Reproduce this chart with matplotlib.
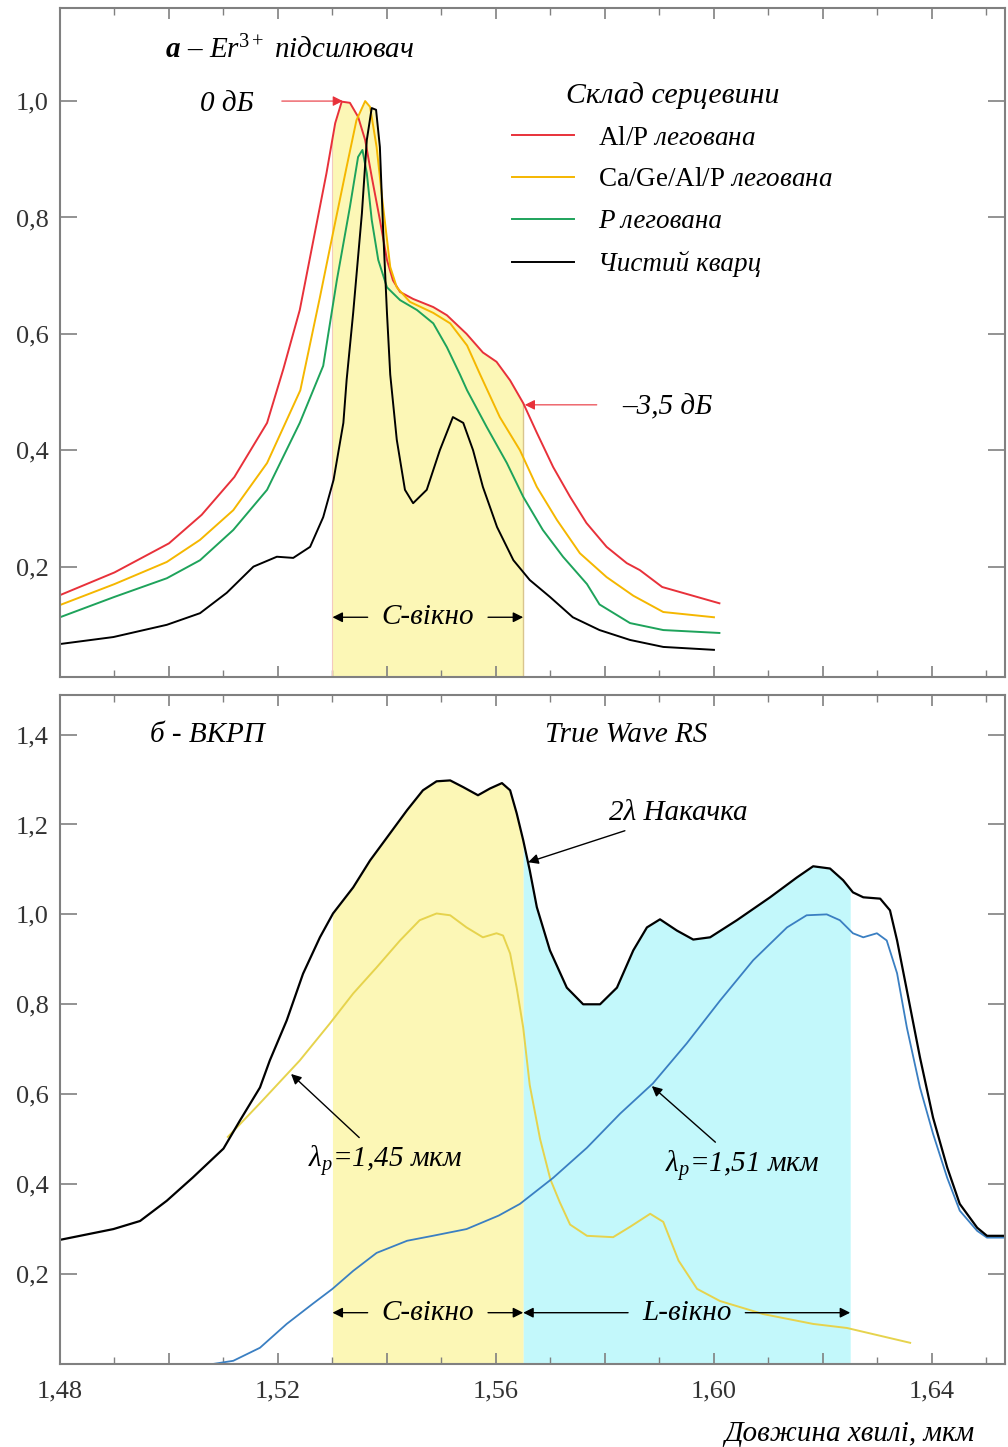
import numpy as np
import matplotlib
matplotlib.use("Agg")
import matplotlib.pyplot as plt
from matplotlib.ticker import MultipleLocator, FuncFormatter

plt.rcParams["font.family"] = ["Liberation Serif", "DejaVu Serif"]
plt.rcParams["mathtext.fontset"] = "custom"
plt.rcParams["mathtext.rm"] = "Liberation Serif"
plt.rcParams["mathtext.it"] = "Liberation Serif:italic"
plt.rcParams["mathtext.bf"] = "Liberation Serif:bold"
plt.rcParams["lines.solid_joinstyle"] = "round"

# ---- panel a: Er3+ amplifier gain spectra (normalised) ----
red_x = [1.480, 1.490, 1.500, 1.506, 1.512, 1.518, 1.521, 1.524, 1.5265, 1.5289,
         1.5305, 1.5317, 1.5332, 1.5347, 1.536, 1.5372, 1.5387, 1.540, 1.5411, 1.5424,
         1.5448, 1.5485, 1.551, 1.5546, 1.5576, 1.5601, 1.5626, 1.565, 1.5675, 1.5705,
         1.5736, 1.5766, 1.5803, 1.584, 1.5864, 1.5905, 1.601]
red_y = [0.151, 0.190, 0.240, 0.289, 0.354, 0.447, 0.540, 0.641, 0.761, 0.876,
         0.962, 0.999, 0.997, 0.973, 0.933, 0.870, 0.796, 0.727, 0.692, 0.672,
         0.660, 0.646, 0.632, 0.600, 0.568, 0.552, 0.520, 0.481, 0.430, 0.371,
         0.320, 0.275, 0.234, 0.206, 0.194, 0.165, 0.137]

yel_x = [1.480, 1.490, 1.4996, 1.5057, 1.5118, 1.518, 1.5241, 1.5277, 1.5302, 1.5326,
         1.5344, 1.536, 1.5369, 1.5381, 1.5393, 1.5406, 1.5418, 1.5442, 1.5485, 1.5516,
         1.5547, 1.5571, 1.5607, 1.5644, 1.5675, 1.5712, 1.5754, 1.5803, 1.5852, 1.5907,
         1.600]
yel_y = [0.134, 0.170, 0.208, 0.246, 0.297, 0.378, 0.503, 0.663, 0.778, 0.887,
         0.967, 1.000, 0.990, 0.921, 0.818, 0.715, 0.680, 0.655, 0.636, 0.618,
         0.580, 0.530, 0.457, 0.400, 0.337, 0.280, 0.223, 0.182, 0.150, 0.122,
         0.113]

grn_x = [1.480, 1.490, 1.4996, 1.5057, 1.5118, 1.518, 1.524, 1.5283, 1.5308, 1.5332,
         1.5347, 1.5355, 1.5363, 1.5372, 1.5384, 1.540, 1.5424, 1.5455, 1.5485, 1.551,
         1.5534, 1.5547, 1.5583, 1.562, 1.565, 1.5686, 1.5723, 1.5767, 1.579, 1.5846,
         1.5907, 1.601]
grn_y = [0.113, 0.148, 0.180, 0.211, 0.263, 0.332, 0.447, 0.545, 0.692, 0.818,
         0.904, 0.916, 0.876, 0.796, 0.727, 0.680, 0.658, 0.641, 0.618, 0.577,
         0.530, 0.503, 0.440, 0.378, 0.320, 0.263, 0.217, 0.170, 0.135, 0.103,
         0.091, 0.086]

blk_x = [1.480, 1.4898, 1.4996, 1.5057, 1.5106, 1.5155, 1.5198, 1.5228, 1.5259, 1.5283,
         1.5302, 1.532, 1.5326, 1.5338, 1.5354, 1.5363, 1.5372, 1.538, 1.5387, 1.5393,
         1.540, 1.5406, 1.5418, 1.5433, 1.5448, 1.5473, 1.5497, 1.5521, 1.554, 1.5558,
         1.5576, 1.5602, 1.5632, 1.5662, 1.5699, 1.5741, 1.579, 1.5846, 1.5907, 1.600]
blk_y = [0.067, 0.079, 0.100, 0.120, 0.155, 0.200, 0.217, 0.215, 0.234, 0.285,
         0.349, 0.447, 0.521, 0.636, 0.807, 0.933, 0.988, 0.985, 0.921, 0.778,
         0.636, 0.530, 0.418, 0.332, 0.309, 0.332, 0.400, 0.457, 0.447, 0.400,
         0.337, 0.268, 0.211, 0.177, 0.148, 0.113, 0.091, 0.074, 0.062, 0.057]

# ---- panel b: Raman amplifier gain ----
pump2_x = [1.480, 1.4898, 1.4947, 1.4996, 1.5044, 1.510, 1.513, 1.5167, 1.5185, 1.5216,
           1.5246, 1.5277, 1.5301, 1.5338, 1.5369, 1.540, 1.5437, 1.5466, 1.5491, 1.5516,
           1.554, 1.5567, 1.5589, 1.5611, 1.5626, 1.5638, 1.565, 1.5662, 1.5675, 1.5699,
           1.573, 1.576, 1.5791, 1.5822, 1.5852, 1.5877, 1.5901, 1.5932, 1.5962, 1.5993,
           1.6042, 1.6103, 1.6152, 1.6182, 1.6213, 1.6237, 1.6255, 1.6274, 1.6305, 1.6323,
           1.6336, 1.6354, 1.6378, 1.6402, 1.6428, 1.6451, 1.6483, 1.6501, 1.6534]
pump2_y = [0.276, 0.300, 0.318, 0.363, 0.415, 0.479, 0.541, 0.615, 0.675, 0.764,
           0.868, 0.949, 1.002, 1.060, 1.120, 1.171, 1.232, 1.276, 1.296, 1.298,
           1.283, 1.265, 1.280, 1.292, 1.276, 1.225, 1.165, 1.098, 1.016, 0.920,
           0.837, 0.800, 0.800, 0.837, 0.920, 0.971, 0.989, 0.964, 0.944, 0.949,
           0.987, 1.038, 1.082, 1.107, 1.102, 1.076, 1.049, 1.038, 1.035, 1.009,
           0.942, 0.831, 0.682, 0.548, 0.437, 0.356, 0.303, 0.285, 0.285]

p145_x = [1.5108, 1.5167, 1.524, 1.5295, 1.5338, 1.5381, 1.5424, 1.546, 1.5491, 1.5516,
          1.5546, 1.5576, 1.5601, 1.5613, 1.5626, 1.5638, 1.565, 1.5662, 1.5681, 1.570,
          1.5717, 1.5736, 1.5767, 1.5815, 1.5846, 1.5883, 1.5907, 1.5935, 1.5969, 1.6011,
          1.609, 1.6182, 1.6244, 1.636]
p145_y = [0.505, 0.580, 0.675, 0.757, 0.824, 0.882, 0.942, 0.987, 1.002, 0.998,
          0.971, 0.949, 0.958, 0.953, 0.913, 0.837, 0.748, 0.620, 0.500, 0.410,
          0.360, 0.310, 0.285, 0.282, 0.305, 0.334, 0.316, 0.230, 0.167, 0.140,
          0.111, 0.089, 0.080, 0.047]

p151_x = [1.5081, 1.5118, 1.5167, 1.5216, 1.5264, 1.530, 1.5338, 1.5381, 1.5437, 1.5484,
          1.5546, 1.5605, 1.5644, 1.5705, 1.5767, 1.5828, 1.5888, 1.595, 1.6011, 1.6072,
          1.6134, 1.617, 1.6207, 1.6231, 1.6255, 1.6274, 1.6299, 1.6317, 1.6336, 1.6354,
          1.6378, 1.6402, 1.6428, 1.6451, 1.6483, 1.6501, 1.6534]
p151_y = [0.000, 0.007, 0.036, 0.089, 0.134, 0.167, 0.207, 0.247, 0.274, 0.285,
          0.300, 0.330, 0.356, 0.414, 0.481, 0.557, 0.624, 0.713, 0.808, 0.898,
          0.971, 0.998, 1.000, 0.987, 0.958, 0.949, 0.958, 0.942, 0.869, 0.748,
          0.615, 0.512, 0.414, 0.341, 0.296, 0.281, 0.281]

c_band = (1.530, 1.565)
l_band = (1.565, 1.625)

col_red = "#e8313a"
col_yel = "#f5b700"
col_grn = "#1ea35b"
col_blu = "#3a7fc2"
col_yel2 = "#e6d34d"
fill_yel = "#fcf7b6"
fill_cyan = "#c3f8fb"
spine_col = "#808080"
FS = 21


def comma(v, pos):
    if abs(v) < 1e-9:
        return ""
    return f"{v:.1f}".replace(".", ",")


def comma2(v, pos):
    if abs(round(v / 0.04) * 0.04 - v) < 1e-6:
        return f"{v:.2f}".replace(".", ",")
    return ""


def style_axes(ax):
    for s in ax.spines.values():
        s.set_color(spine_col)
        s.set_linewidth(1.5)
    ax.xaxis.set_major_locator(MultipleLocator(0.02))
    ax.xaxis.set_minor_locator(MultipleLocator(0.01))
    ax.yaxis.set_major_locator(MultipleLocator(0.2))
    ax.yaxis.set_major_formatter(FuncFormatter(comma))
    ax.xaxis.set_major_formatter(FuncFormatter(comma2))
    ax.tick_params(which="both", direction="in", top=True, right=True,
                   color=spine_col, labelsize=19, labelcolor="#333333")
    ax.tick_params(which="major", length=8, width=1.2)
    ax.tick_params(which="minor", length=5, width=1.0)
    ax.tick_params(axis="y", which="major", length=12, pad=8)
    ax.tick_params(axis="x", which="major", pad=12)


def arrow(ax, xy, xytext, color="black", lw=1.0):
    ax.annotate("", xy=xy, xytext=xytext,
                arrowprops=dict(arrowstyle="-|>", color=color, lw=lw,
                                mutation_scale=15, shrinkA=0, shrinkB=0))


def band_label(ax, text, band, y):
    mid = (band[0] + band[1]) / 2
    kw = dict(xycoords="data", textcoords="data", ha="center", va="center",
              fontsize=FS, style="italic")
    ap = dict(arrowstyle="-|>", color="black", lw=1.0, mutation_scale=15,
              shrinkA=8, shrinkB=0)
    ax.annotate(text, xy=(band[0], y), xytext=(mid, y), arrowprops=ap, **kw)
    ax.annotate(text, xy=(band[1], y), xytext=(mid, y), arrowprops=ap,
                color="none", **kw)


fig = plt.figure(figsize=(10.08, 14.47), dpi=100)
ax1 = fig.add_axes([0.0595, 0.532, 0.9375, 0.4625])
ax2 = fig.add_axes([0.0595, 0.0574, 0.9375, 0.4623])

# ---------- top panel ----------
grid = np.linspace(c_band[0], c_band[1], 300)
env = np.max([np.interp(grid, red_x, red_y), np.interp(grid, yel_x, yel_y),
              np.interp(grid, grn_x, grn_y), np.interp(grid, blk_x, blk_y)], axis=0)
ax1.fill_between(grid, 0, env, color=fill_yel, lw=0)
ax1.plot([c_band[0], c_band[0]], [0, env[0]], color="#f3c9c0", lw=0.8)
ax1.plot([c_band[1], c_band[1]], [0, env[-1]], color="#d9c58e", lw=1.0)

l_red, = ax1.plot(red_x, red_y, color=col_red, lw=1.4)
l_yel, = ax1.plot(yel_x, yel_y, color=col_yel, lw=1.4)
l_grn, = ax1.plot(grn_x, grn_y, color=col_grn, lw=1.4)
l_blk, = ax1.plot(blk_x, blk_y, color="black", lw=1.4)

ax1.set_xlim(1.48, 1.6534)
ax1.set_ylim(0.01, 1.16)
style_axes(ax1)
ax1.tick_params(axis="x", labelbottom=False)

leg = ax1.legend([l_red, l_yel, l_grn, l_blk],
                 [r"$\mathrm{Al/P}$ легована", r"$\mathrm{Ca/Ge/Al/P}$ легована",
                  "P легована", "Чистий кварц"],
                 title="Склад серцевини", loc="upper left",
                 bbox_to_anchor=(0.458, 0.918), frameon=False,
                 prop=dict(family="Liberation Serif", style="italic", size=19.5),
                 handlelength=2.3, handletextpad=0.9, labelspacing=0.62,
                 borderpad=0.2)
leg.get_title().set_fontstyle("italic")
leg.get_title().set_fontsize(21.5)

ax1.text(1.4993, 1.088, "a", fontsize=FS, weight="bold", style="italic",
         va="center")
ax1.annotate(r" – Er$^{3+}$ підсилювач", xy=(1.4993, 1.088), xytext=(11, 0),
             textcoords="offset points", fontsize=FS, style="italic", va="center")

ax1.text(1.5057, 0.995, "0 дБ", fontsize=FS, style="italic", va="center")
arrow(ax1, (1.5319, 1.0), (1.5207, 1.0), color=col_red, lw=0.8)
ax1.text(1.5831, 0.474, "–3,5 дБ", fontsize=FS, style="italic", va="center")
arrow(ax1, (1.5653, 0.478), (1.5785, 0.478), color=col_red, lw=0.8)

band_label(ax1, "C-вікно", c_band, 0.113)

# ---------- bottom panel ----------
g_c = np.linspace(c_band[0], c_band[1], 300)
g_l = np.linspace(l_band[0], l_band[1], 400)
ax2.fill_between(g_c, 0, np.interp(g_c, pump2_x, pump2_y), color=fill_yel, lw=0)
ax2.fill_between(g_l, 0, np.interp(g_l, pump2_x, pump2_y), color=fill_cyan, lw=0)

ax2.plot(p145_x, p145_y, color=col_yel2, lw=1.4)
ax2.plot(p151_x, p151_y, color=col_blu, lw=1.3)
ax2.plot(pump2_x, pump2_y, color="black", lw=1.6)

ax2.set_xlim(1.48, 1.6534)
ax2.set_ylim(0.0, 1.488)
style_axes(ax2)

ax2.text(1.4965, 1.40, "б - ВКРП", fontsize=FS, style="italic", va="center")
ax2.text(1.569, 1.40, "True Wave RS", fontsize=FS, style="italic", va="center")

ap = dict(arrowstyle="-|>", color="black", lw=1.0, mutation_scale=15,
          shrinkA=4, shrinkB=0)
ax2.annotate("2λ Накачка", xy=(1.5659, 1.116), xytext=(1.5808, 1.225),
             fontsize=FS, style="italic", va="center", ha="left", arrowprops=ap)
ax2.annotate(r"$\lambda_p$=1,45 мкм", xy=(1.5224, 0.645), xytext=(1.5255, 0.45),
             fontsize=FS, style="italic", va="center", ha="left", arrowprops=ap)
ax2.annotate(r"$\lambda_p$=1,51 мкм", xy=(1.5886, 0.618), xytext=(1.5911, 0.44),
             fontsize=FS, style="italic", va="center", ha="left", arrowprops=ap)

band_label(ax2, "C-вікно", c_band, 0.114)
band_label(ax2, "L-вікно", l_band, 0.114)

ax2.set_xlabel("Довжина хвилі, мкм", fontsize=FS, style="italic", ha="right")
ax2.xaxis.set_label_coords(0.968, -0.085)

fig.savefig("out.png", dpi=100)
